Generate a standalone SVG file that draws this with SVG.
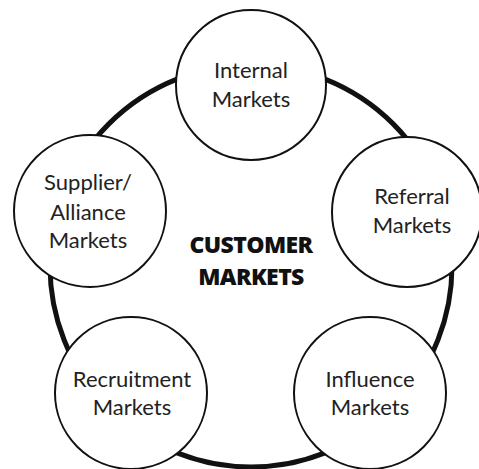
<svg xmlns="http://www.w3.org/2000/svg" width="479" height="469" viewBox="0 0 479 469">
  <style>
    .ring { fill: none; stroke: #111; stroke-width: 5; }
    .node { fill: #fff; stroke: #111; stroke-width: 2; }
    .lbl { font-family: Lato, "Open Sans", "Liberation Sans", sans-serif; font-size: 22px; fill: #222; text-anchor: middle; }
    .hub { font-family: "Open Sans", "Liberation Sans", sans-serif; font-size: 23px; font-weight: 800; fill: #111; text-anchor: middle; letter-spacing: -0.6px; }
  </style>
  <rect width="479" height="469" fill="#fff"/>
  <g id="connectors">
    <circle class="ring" cx="251" cy="266" r="201"/>
  </g>
  <g id="customer-markets">
    <text class="hub" x="251" y="253">CUSTOMER</text>
    <text class="hub" x="251" y="285">MARKETS</text>
  </g>
  <g id="internal-markets">
    <circle class="node" cx="251" cy="85" r="75"/>
    <text class="lbl" x="251" y="78">Internal</text>
    <text class="lbl" x="251" y="107">Markets</text>
  </g>
  <g id="referral-markets">
    <circle class="node" cx="407" cy="212" r="75"/>
    <text class="lbl" x="412" y="204">Referral</text>
    <text class="lbl" x="412" y="233">Markets</text>
  </g>
  <g id="supplier-alliance-markets">
    <circle class="node" cx="90" cy="211" r="76"/>
    <text class="lbl" x="88" y="190">Supplier/</text>
    <text class="lbl" x="88" y="220">Alliance</text>
    <text class="lbl" x="88" y="248">Markets</text>
  </g>
  <g id="recruitment-markets">
    <circle class="node" cx="131" cy="393" r="76"/>
    <text class="lbl" x="132" y="387">Recruitment</text>
    <text class="lbl" x="132" y="415">Markets</text>
  </g>
  <g id="influence-markets">
    <circle class="node" cx="370" cy="393" r="76"/>
    <text class="lbl" x="370" y="387">Influence</text>
    <text class="lbl" x="370" y="415">Markets</text>
  </g>
</svg>
